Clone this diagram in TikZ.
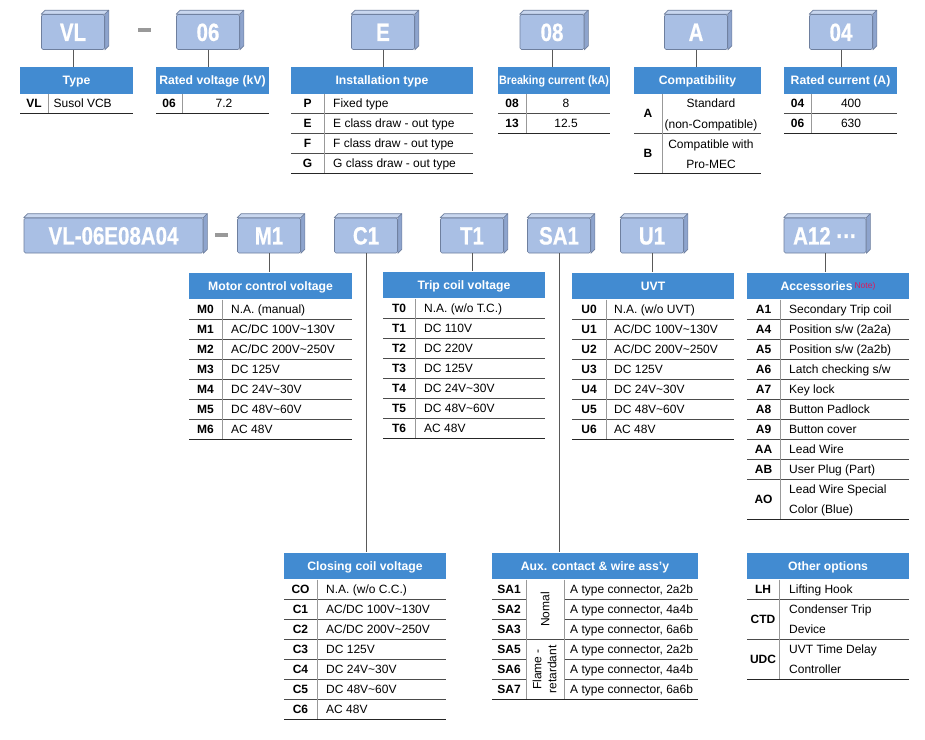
\documentclass[tikz,border=0pt]{standalone}
\usepackage{fontspec}
\setmainfont{Liberation Sans}
\newfontfamily\boxfont{Liberation Sans}[FakeStretch=0.82, FakeBold=0.6]
\newfontfamily\narrowfont{Liberation Sans}[FakeStretch=0.88]
\usepackage{tikz}
\usetikzlibrary{positioning}

\definecolor{boxface}{HTML}{A9BFE4}
\definecolor{boxtopc}{HTML}{C9D7EF}
\definecolor{boxsidec}{HTML}{8EA4CD}
\definecolor{boxline}{HTML}{6E7F9E}
\definecolor{headblue}{HTML}{428BD1}
\definecolor{notered}{HTML}{E0175A}

\tikzset{
  codeface/.style={fill=boxface, draw=boxline, line width=0.6pt, rounded corners=1.5pt,
    minimum height=35, inner sep=0, text=white, text height=17.9pt, text depth=0pt,
    font=\boxfont\bfseries\fontsize{25}{25}\selectfont},
  boxtop/.style={fill=boxtopc, draw=boxline, line width=0.6pt, line join=round},
  boxside/.style={fill=boxsidec, draw=boxline, line width=0.6pt, line join=round},
  sepdash/.style={fill=black!40, minimum width=13, minimum height=4, inner sep=0},
  tabhead/.style={fill=headblue, text=white, minimum height=26.5, inner sep=0,
    text height=9pt, text depth=0pt, font=\bfseries\fontsize{12.2}{14}\selectfont},
  codecell/.style={anchor=base, inner sep=0, font=\bfseries\fontsize{12}{14}\selectfont},
  desccell/.style={anchor=base west, inner sep=0, font=\fontsize{12}{14}\selectfont},
  valcell/.style={anchor=base, inner sep=0, font=\fontsize{12}{14}\selectfont},
  grouplbl/.style={rotate=90, inner sep=0, align=center, font=\fontsize{12}{15}\selectfont},
  rowline/.style={draw=black!70, line width=0.8pt},
  colsep/.style={draw=black!40, line width=0.8pt},
  endline/.style={draw=black!85, line width=1.6pt},
  link/.style={draw=black!65, line width=0.8pt},
}

% name, x, y, width, text
\newcommand{\codebox}[5]{%
  \node[codeface, minimum width=#4] (#1) at (#2,#3) {#5};
  \filldraw[boxtop] (#1.north west) -- ++(4,-4) -- ([shift={(4pt,4pt)}]#1.north east) -- (#1.north east) -- cycle;
  \filldraw[boxside] (#1.north east) -- ([shift={(4pt,4pt)}]#1.north east) -- ([shift={(4pt,4pt)}]#1.south east) -- (#1.south east) -- cycle;
}
% name, x1, x2, top, title
\newcommand{\tabhead}[5]{%
  \node[tabhead, minimum width={#3-#2}] (#1) at ({(#2+#3)/2},{#4+13.25}) {#5};
}
% prefix, x1, xsep, x2, top, text offset, code/text list
\newcommand{\tabrows}[7]{%
  \foreach \c/\d [count=\i] in {#7} {
    \node[codecell] (#1\i) at ({(#2+#3)/2},{#5+20*\i-5.7}) {\c};
    \node[desccell] (#1\i d) at ({#3+#6},{#5+20*\i-5.7}) {\d};
    \draw[rowline] (#2,{#5+20*\i}) -- (#4,{#5+20*\i});
  }
}
% prefix, x1, xsep, x2, top, value x, code/value list
\newcommand{\valrows}[7]{%
  \foreach \c/\d [count=\i] in {#7} {
    \node[codecell] (#1\i) at ({(#2+#3)/2},{#5+20*\i-5.7}) {\c};
    \node[valcell] (#1\i d) at (#6,{#5+20*\i-5.7}) {\d};
    \draw[rowline] (#2,{#5+20*\i}) -- (#4,{#5+20*\i});
  }
}

\begin{document}
\begin{tikzpicture}[x=1pt,y=-1pt]
\useasboundingbox[fill=white] (0,0) rectangle (925,739);

% Code boxes, first line
\codebox{vlbox}{73}{32}{63}{VL}
\node[sepdash] (dash1) at (144.5,30) {};
\codebox{kvbox}{208}{32}{63}{06}
\codebox{instbox}{383}{32}{63}{E}
\codebox{kabox}{552}{32}{64}{08}
\codebox{compbox}{696}{32}{63}{A}
\codebox{ampbox}{841}{32}{63}{04}

% Code boxes, second line
\codebox{basebox}{113.5}{235.5}{179}{VL-06E08A04}
\node[sepdash] (dash2) at (221.5,235) {};
\codebox{motbox}{269}{235.5}{63}{M1}
\codebox{closebox}{366}{235.5}{63}{C1}
\codebox{tripbox}{472}{235.5}{63}{T1}
\codebox{auxbox}{559}{235.5}{63}{SA1}
\codebox{uvtbox}{652}{235.5}{63}{U1}
\codebox{accbox}{825}{235.5}{82}{A12 ···}

% Type
\tabhead{typeh}{20}{133}{67}{Type}
\node[codecell] (type1) at (34,107.8) {VL};
\node[desccell] (type1d) at (53.5,107.8) {Susol VCB};
\draw[colsep] (48,93.5) -- (48,113.5);
\draw[endline] (20,113.5) -- (133,113.5);

% Rated voltage
\tabhead{kvh}{156}{269}{67}{Rated voltage (kV)}
\valrows{kv}{156}{182}{269}{93.5}{224}{06/7.2}
\draw[colsep] (182,93.5) -- (182,113.5);
\draw[endline] (156,113.5) -- (269,113.5);

% Installation type
\tabhead{insth}{291}{473}{67}{Installation type}
\tabrows{inst}{291}{324}{473}{93.5}{9}{P/Fixed type, E/E class draw - out type, F/F class draw - out type, G/G class draw - out type}
\draw[colsep] (324,93.5) -- (324,173.5);
\draw[endline] (291,173.5) -- (473,173.5);

% Breaking current
\tabhead{kah}{498}{610}{67}{\narrowfont\bfseries Breaking current (kA)}
\valrows{ka}{498}{526}{610}{93.5}{566}{08/8, 13/12.5}
\draw[colsep] (526,93.5) -- (526,133.5);
\draw[endline] (498,133.5) -- (610,133.5);

% Compatibility
\tabhead{comph}{634}{761}{67}{Compatibility}
\node[codecell] (comp1) at (648,117.8) {A};
\node[valcell] (comp1a) at (711,107.3) {Standard};
\node[valcell] (comp1b) at (711,128.3) {(non-Compatible)};
\node[codecell] (comp2) at (648,157.8) {B};
\node[valcell] (comp2a) at (711,148.8) {Compatible with};
\node[valcell] (comp2b) at (711,168.8) {Pro-MEC};
\draw[rowline] (634,133.5) -- (761,133.5);
\draw[colsep] (662,93.5) -- (662,173.5);
\draw[endline] (634,173.5) -- (761,173.5);

% Rated current
\tabhead{amph}{784}{897}{67}{Rated current (A)}
\valrows{amp}{784}{811}{897}{93.5}{851}{04/400, 06/630}
\draw[colsep] (811,93.5) -- (811,133.5);
\draw[endline] (784,133.5) -- (897,133.5);

% Motor control voltage
\tabhead{moth}{189}{352}{272.5}{Motor control voltage}
\tabrows{mot}{189}{222}{352}{299.5}{9}{M0/N.A. (manual), M1/{AC/DC 100V\textasciitilde130V}, M2/{AC/DC 200V\textasciitilde250V}, M3/DC 125V, M4/DC 24V\textasciitilde30V, M5/DC 48V\textasciitilde60V, M6/AC 48V}
\draw[colsep] (222,299.5) -- (222,439.5);
\draw[endline] (189,439.5) -- (352,439.5);

% Trip coil voltage
\tabhead{triph}{383}{545}{271.5}{Trip coil voltage}
\tabrows{trip}{383}{415}{545}{298.5}{9}{T0/{N.A. (w/o T.C.)}, T1/DC 110V, T2/DC 220V, T3/DC 125V, T4/DC 24V\textasciitilde30V, T5/DC 48V\textasciitilde60V, T6/AC 48V}
\draw[colsep] (415,298.5) -- (415,438.5);
\draw[endline] (383,438.5) -- (545,438.5);

% UVT
\tabhead{uvth}{572}{734}{272.5}{UVT}
\tabrows{uvt}{572}{606}{734}{299.5}{8}{U0/{N.A. (w/o UVT)}, U1/{AC/DC 100V\textasciitilde130V}, U2/{AC/DC 200V\textasciitilde250V}, U3/DC 125V, U4/DC 24V\textasciitilde30V, U5/DC 48V\textasciitilde60V, U6/AC 48V}
\draw[colsep] (606,299.5) -- (606,439.5);
\draw[endline] (572,439.5) -- (734,439.5);

% Accessories
\tabhead{acch}{747}{909}{272.5}{Accessories\,\textcolor{notered}{\raisebox{2pt}{\fontsize{8.5}{8.5}\selectfont\mdseries Note)}}}
\tabrows{acc}{747}{780}{909}{299.5}{9}{A1/Secondary Trip coil, A4/{Position s/w (2a2a)}, A5/{Position s/w (2a2b)}, A6/{Latch checking s/w}, A7/Key lock, A8/Button Padlock, A9/Button cover, AA/Lead Wire, AB/User Plug (Part)}
\node[codecell] (acc10) at (763.5,503.8) {AO};
\node[desccell] (acc10a) at (789,493.8) {Lead Wire Special};
\node[desccell] (acc10b) at (789,513.8) {Color (Blue)};
\draw[colsep] (780,299.5) -- (780,519.5);
\draw[endline] (747,519.5) -- (909,519.5);

% Closing coil voltage
\tabhead{closeh}{284}{446}{552.5}{Closing coil voltage}
\tabrows{close}{284}{317}{446}{579.5}{9}{CO/{N.A. (w/o C.C.)}, C1/{AC/DC 100V\textasciitilde130V}, C2/{AC/DC 200V\textasciitilde250V}, C3/DC 125V, C4/DC 24V\textasciitilde30V, C5/DC 48V\textasciitilde60V, C6/AC 48V}
\draw[colsep] (317,579.5) -- (317,719.5);
\draw[endline] (284,719.5) -- (446,719.5);

% Aux. contact & wire ass'y
\tabhead{auxh}{492}{698}{552.5}{Aux. contact \& wire ass’y}
\foreach \c/\d [count=\i] in {SA1/{A type connector, 2a2b}, SA2/{A type connector, 4a4b}, SA3/{A type connector, 6a6b}, SA5/{A type connector, 2a2b}, SA6/{A type connector, 4a4b}, SA7/{A type connector, 6a6b}} {
  \node[codecell] (aux\i) at (509,{579.5+20*\i-5.7}) {\c};
  \node[desccell] (aux\i d) at (570,{579.5+20*\i-5.7}) {\d};
}
\foreach \i in {1,2,4,5} {
  \draw[rowline] (492,{579.5+20*\i}) -- (526,{579.5+20*\i});
  \draw[rowline] (564,{579.5+20*\i}) -- (698,{579.5+20*\i});
}
\node[grouplbl] (auxg1) at (545,609.5) {Nomal};
\node[grouplbl] (auxg2) at (544.5,669.5) {Flame -\\retardant};
\draw[rowline] (492,639.5) -- (698,639.5);
\draw[colsep] (526,579.5) -- (526,699.5);
\draw[colsep] (564,579.5) -- (564,699.5);
\draw[endline] (492,699.5) -- (698,699.5);

% Other options
\tabhead{othh}{747}{909}{552.5}{Other options}
\node[codecell] (oth1) at (763,593.8) {LH};
\node[desccell] (oth1d) at (789,593.8) {Lifting Hook};
\node[codecell] (oth2) at (763,623.8) {CTD};
\node[desccell] (oth2a) at (789,613.8) {Condenser Trip};
\node[desccell] (oth2b) at (789,633.8) {Device};
\node[codecell] (oth3) at (763,663.8) {UDC};
\node[desccell] (oth3a) at (789,653.8) {UVT Time Delay};
\node[desccell] (oth3b) at (789,673.8) {Controller};
\draw[rowline] (747,599.5) -- (909,599.5);
\draw[rowline] (747,639.5) -- (909,639.5);
\draw[colsep] (779,579.5) -- (779,679.5);
\draw[endline] (747,679.5) -- (909,679.5);

% Links from code boxes to tables
\draw[link] (vlbox.south) -- (vlbox.south |- typeh.north);
\draw[link] (kvbox.south) -- (kvbox.south |- kvh.north);
\draw[link] (instbox.south) -- (instbox.south |- insth.north);
\draw[link] (kabox.south) -- (kabox.south |- kah.north);
\draw[link] (compbox.south) -- (compbox.south |- comph.north);
\draw[link] (ampbox.south) -- (ampbox.south |- amph.north);
\draw[link] (motbox.south) -- (motbox.south |- moth.north);
\draw[link] (closebox.south) -- (closebox.south |- closeh.north);
\draw[link] (tripbox.south) -- (tripbox.south |- triph.north);
\draw[link] (auxbox.south) -- (auxbox.south |- auxh.north);
\draw[link] (uvtbox.south) -- (uvtbox.south |- uvth.north);
\draw[link] (accbox.south) -- (accbox.south |- acch.north);
\end{tikzpicture}
\end{document}
